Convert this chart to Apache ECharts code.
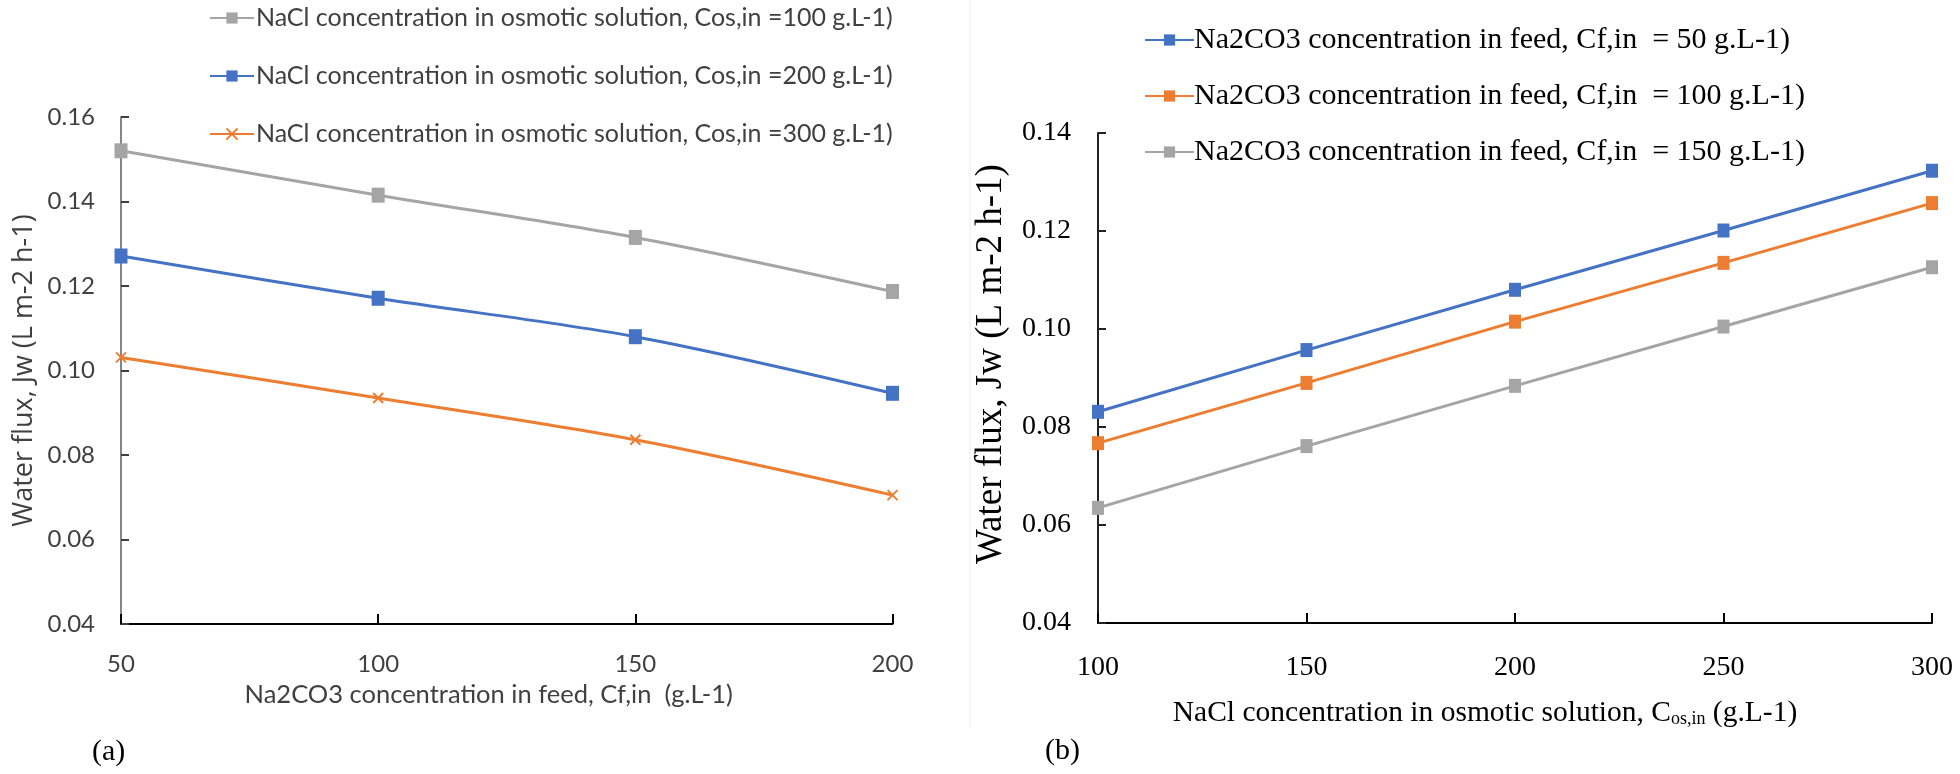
<!DOCTYPE html>
<html>
<head>
<meta charset="utf-8">
<script src="https://cdn.jsdelivr.net/npm/echarts@6/dist/echarts.min.js"></script>
<style>
html,body{margin:0;padding:0;background:#fff;}
#c{width:1960px;height:774px;}
</style>
</head>
<body>
<div id="c"></div>
<script>
// ---- data (a) ----
const feedConc = [50, 100, 150, 200];
const namesA = [
  'NaCl concentration in osmotic solution, Cos,in =100 g.L-1)',
  'NaCl concentration in osmotic solution, Cos,in =200 g.L-1)',
  'NaCl concentration in osmotic solution, Cos,in =300 g.L-1)'
];
const fluxA100 = [0.1520, 0.1415, 0.1315, 0.1187];
const fluxA200 = [0.1271, 0.1171, 0.1080, 0.0946];
const fluxA300 = [0.1031, 0.0935, 0.0836, 0.0705];

// ---- data (b) ----
const nacl = [100, 150, 200, 250, 300];
const namesB = [
  'Na2CO3 concentration in feed, Cf,in  = 50 g.L-1)',
  'Na2CO3 concentration in feed, Cf,in  = 100 g.L-1)',
  'Na2CO3 concentration in feed, Cf,in  = 150 g.L-1)'
];
const fluxB50 = [0.0831, 0.0957, 0.1080, 0.1201, 0.1323];
const fluxB100 = [0.0767, 0.0890, 0.1015, 0.1135, 0.1257];
const fluxB150 = [0.0635, 0.0761, 0.0884, 0.1005, 0.1126];

const BLUE = '#4472C4', ORANGE = '#ED7D31', GRAY = '#A5A5A5';
const zip = (xs, ys) => xs.map((x, i) => [x, ys[i]]);
const SANS = 'Lato';
const SERIF = '"Liberation Serif", "Times New Roman", serif';
const XMARK = 'path://M0,0L10,10M10,0L0,10';

const chart = echarts.init(document.getElementById('c'), null, {renderer: 'canvas'});

function lineSeries(name, data, color, axisIdx, symbol, size, smooth) {
  return {
    name: name, type: 'line', xAxisIndex: axisIdx, yAxisIndex: axisIdx,
    data: data, smooth: smooth, symbol: symbol, symbolSize: size,
    showAllSymbol: true,
    lineStyle: {color: color, width: 3},
    itemStyle: {color: color, borderColor: color, borderWidth: symbol === XMARK ? 2 : 0},
    emphasis: {disabled: true},
    z: 3
  };
}

const option = {
  backgroundColor: '#fff',
  animation: false,
  grid: [
    {left: 121, right: 1960 - 892.5, top: 117, bottom: 774 - 624},
    {left: 1098, right: 1960 - 1932, top: 133, bottom: 774 - 623}
  ],
  legend: [
    {
      data: namesA, orient: 'vertical', left: 209, top: 5, padding: 0,
      itemWidth: 44, itemHeight: 14, itemGap: 32,
      textStyle: {fontFamily: SANS, fontSize: 25, color: '#404040', lineHeight: 26, padding: [0, 0, 0, -3]},
      selectedMode: false
    },
    {
      data: namesB, orient: 'vertical', left: 1144, top: 24, padding: 0,
      itemWidth: 49, itemHeight: 14, itemGap: 24,
      textStyle: {fontFamily: SERIF, fontSize: 30, color: '#000', lineHeight: 32, padding: [0, 0, 0, -5]},
      selectedMode: false
    }
  ],
  xAxis: [
    {
      gridIndex: 0, type: 'value', min: 50, max: 200, interval: 50,
      name: 'Na2CO3 concentration in feed, Cf,in  (g.L-1)', nameLocation: 'middle', nameGap: 58,
      nameTextStyle: {fontFamily: SANS, fontSize: 25.5, color: '#404040', padding: [0, 36, 0, 0]},
      axisLine: {lineStyle: {color: '#000', width: 2}},
      axisTick: {inside: true, length: 10, lineStyle: {color: '#000', width: 2}},
      axisLabel: {fontFamily: SANS, fontSize: 24, color: '#404040', margin: 28},
      splitLine: {show: false}
    },
    {
      gridIndex: 1, type: 'value', min: 100, max: 300, interval: 50,
      name: '{n|NaCl concentration in osmotic solution, C}{s|os,in}{n| (g.L-1)}',
      nameLocation: 'middle', nameGap: 75,
      nameTextStyle: {
        padding: [0, 60, 0, 0],
        rich: {
          n: {fontFamily: SERIF, fontSize: 29.5, color: '#000'},
          s: {fontFamily: SERIF, fontSize: 18, color: '#000', verticalAlign: 'bottom', padding: [12, 0, 0, 0]}
        }
      },
      axisLine: {lineStyle: {color: '#000', width: 2}},
      axisTick: {inside: true, length: 10, lineStyle: {color: '#000', width: 2}},
      axisLabel: {fontFamily: SERIF, fontSize: 28, color: '#000', margin: 31},
      splitLine: {show: false}
    }
  ],
  yAxis: [
    {
      gridIndex: 0, type: 'value', min: 0.04, max: 0.16, interval: 0.02,
      name: 'Water flux, Jw (L m-2 h-1)', nameLocation: 'middle', nameGap: 83,
      nameTextStyle: {fontFamily: '"Open Sans"', fontSize: 27, color: '#404040'},
      axisLine: {show: true, lineStyle: {color: '#868686', width: 2}},
      axisTick: {show: true, inside: true, length: 8, lineStyle: {color: '#404040', width: 2}},
      axisLabel: {fontFamily: SANS, fontSize: 24, color: '#404040', margin: 26, formatter: v => v.toFixed(2)},
      splitLine: {show: false}
    },
    {
      gridIndex: 1, type: 'value', min: 0.04, max: 0.14, interval: 0.02,
      name: 'Water flux, Jw (L m-2 h-1)', nameLocation: 'middle', nameGap: 88,
      nameTextStyle: {fontFamily: SERIF, fontSize: 37, color: '#000', padding: [0, 0, 0, 28]},
      axisLine: {show: true, lineStyle: {color: '#222', width: 2}},
      axisTick: {show: true, inside: true, length: 8, lineStyle: {color: '#222', width: 2}},
      axisLabel: {fontFamily: SERIF, fontSize: 28, color: '#000', margin: 27, formatter: v => v.toFixed(2)},
      splitLine: {show: false}
    }
  ],
  graphic: [
    {type: 'line', shape: {x1: 970, y1: 0, x2: 970, y2: 727}, style: {stroke: '#ececec', lineWidth: 1}, silent: true},
    {type: 'text', left: 92, top: 737, style: {text: '(a)', font: '30px "Liberation Serif"', fill: '#000'}},
    {type: 'text', left: 1045, top: 736, style: {text: '(b)', font: '30px "Liberation Serif"', fill: '#000'}}
  ],
  series: [
    lineSeries(namesA[0], zip(feedConc, fluxA100), GRAY, 0, 'rect', [13, 15], 0.3),
    lineSeries(namesA[1], zip(feedConc, fluxA200), BLUE, 0, 'rect', [13, 15], 0.3),
    lineSeries(namesA[2], zip(feedConc, fluxA300), ORANGE, 0, XMARK, 10, 0.3),
    lineSeries(namesB[0], zip(nacl, fluxB50), BLUE, 1, 'rect', [12, 14], false),
    lineSeries(namesB[1], zip(nacl, fluxB100), ORANGE, 1, 'rect', [12, 14], false),
    lineSeries(namesB[2], zip(nacl, fluxB150), GRAY, 1, 'rect', [12, 14], false)
  ]
};
chart.setOption(option);
</script>
</body>
</html>
